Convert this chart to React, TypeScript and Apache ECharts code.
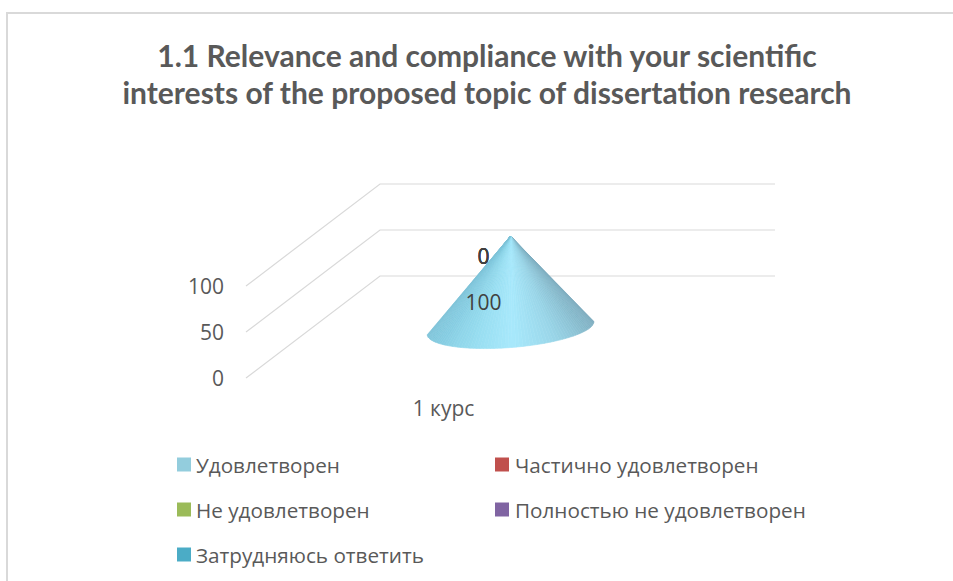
import React, { useEffect, useRef } from "react";
import * as echarts from "echarts";

const titleText = "1.1 Relevance and compliance with your scientific\ninterests of the proposed topic of dissertation research";
const categories = ["1 курс"];
const seriesNames = ["Удовлетворен", "Частично удовлетворен", "Не удовлетворен", "Полностью не удовлетворен", "Затрудняюсь ответить"];
const seriesValues = [[100], [0], [0], [0], [0]];
const seriesColors = ["#93CDDD", "#C0504D", "#9BBB59", "#8064A2", "#4BACC6"];
const yTicks = [0, 50, 100];
const coneShades = ["#7AA9BC", "#88BCCE", "#9AD6E9", "#A8E9FC", "#96DCEF", "#85CCE1", "#7EC3D8"];

const DEPTH_X = 134;
const DEPTH_Y = -102;
const FONT = "'Open Sans', 'Noto Sans', sans-serif";
const TEXT = "#595959";

const legendPos = [
  [177, 455], [495, 455], [177, 500], [495, 500], [177, 545],
];

function coneSlices(api: any, base: number, top: number) {
  const cat = api.value(0);
  const b = api.coord([cat, base]);
  const t = api.coord([cat, top]);
  const cx = b[0] + DEPTH_X / 2;
  const cy = b[1] + DEPTH_Y / 2 + 1;
  const ax = t[0] + DEPTH_X / 2;
  const ay = t[1] + DEPTH_Y / 2 + 1;
  const rx = 83.5, ry = 19.5, phi = (-4.6 * Math.PI) / 180;
  const rim = (a: number) => [
    cx + rx * Math.cos(a) * Math.cos(phi) - ry * Math.sin(a) * Math.sin(phi),
    cy + rx * Math.cos(a) * Math.sin(phi) + ry * Math.sin(a) * Math.cos(phi),
  ];
  const n = 72;
  const out: any[] = [];
  for (let i = 0; i < n; i++) {
    const color = echarts.color.lerp((i + 0.5) / n, coneShades) as string;
    out.push({
      type: "polygon",
      shape: { points: [[ax, ay], rim((Math.PI * i) / n), rim((Math.PI * (i + 1)) / n)] },
      style: { fill: color, stroke: color, lineWidth: 0.6 },
    });
  }
  return out;
}

function App() {
  const ref = useRef<HTMLDivElement>(null);
  useEffect(() => {
    const chart = echarts.init(ref.current!, null, { renderer: "svg" });
    let running = 0;
    const stacked = seriesValues.map((v) => {
      const base = running;
      running += v[0];
      return [categories[0], v[0], base];
    });
    chart.setOption({
      animation: false,
      backgroundColor: "#ffffff",
      title: {
        text: titleText,
        left: 482,
        top: 31,
        textAlign: "center",
        textStyle: { fontFamily: "Lato, 'Open Sans', sans-serif", fontWeight: 700, fontSize: 30, lineHeight: 37, color: TEXT },
      },
      graphic: [
        {
          type: "polyline",
          silent: true,
          shape: { points: [[7, 581], [7, 13], [953, 13]] },
          style: { fill: "none", stroke: "#D9D9D9", lineWidth: 2 },
        },
      ],
      legend: seriesNames.map((n, i) => ({
        data: [n],
        left: legendPos[i][0],
        top: legendPos[i][1] - 1,
        icon: "rect",
        itemWidth: 14,
        itemHeight: 14,
        itemGap: 0,
        padding: 0,
        selectedMode: false,
        textStyle: { fontFamily: FONT, fontSize: 20.7, color: TEXT, padding: [0, 0, 3, legendPos[i][0] > 300 ? 1 : 0] },
      })),
      grid: { left: 246, top: 286, width: 395, height: 92 },
      xAxis: {
        type: "category",
        data: categories,
        axisLine: { show: false },
        axisTick: { show: false },
        axisLabel: { fontFamily: FONT, fontSize: 21, color: TEXT, margin: 19 },
      },
      yAxis: {
        type: "value",
        min: 0,
        max: 100,
        interval: 50,
        splitLine: { show: false },
        axisLine: { show: false },
        axisTick: { show: false },
        axisLabel: { fontFamily: FONT, fontSize: 21, color: TEXT, margin: 22 },
      },
      series: [
        {
          type: "custom",
          name: "grid",
          silent: true,
          clip: false,
          z: 1,
          data: yTicks.map((t) => [categories[0], t]),
          encode: { x: 0, y: 1 },
          renderItem: (params: any, api: any) => {
            const y = api.coord([api.value(0), api.value(1)])[1];
            const left = params.coordSys.x;
            const w = params.coordSys.width;
            return {
              type: "polyline",
              shape: { points: [[left, y], [left + DEPTH_X, y + DEPTH_Y], [left + w + DEPTH_X, y + DEPTH_Y]] },
              style: { fill: "none", stroke: "#D9D9D9", lineWidth: 1.2 },
            };
          },
        },
        ...seriesNames.map((name, i) => ({
          type: "custom",
          name,
          clip: false,
          z: 3,
          itemStyle: { color: seriesColors[i] },
          data: [stacked[i]],
          encode: { x: 0, y: 1 },
          renderItem: (_: any, api: any) => {
            const value = api.value(1);
            const base = api.value(2);
            const children: any[] = [];
            if (value > 0) children.push(...coneSlices(api, base, base + value));
            const mid = api.coord([api.value(0), base + value / 2]);
            children.push({
              type: "text",
              style: {
                x: mid[0] + DEPTH_X / 2 - 27,
                y: mid[1] + DEPTH_Y / 2 + 21,
                text: String(value),
                align: "center",
                verticalAlign: "middle",
                fontFamily: FONT,
                fontSize: 21,
                fill: "#404040",
              },
            });
            return { type: "group", children };
          },
        })),
      ],
    });
    return () => chart.dispose();
  }, []);
  return <div ref={ref} style={{ position: "fixed", left: 0, top: 0, width: 953, height: 581 }} />;
}

export default App;
